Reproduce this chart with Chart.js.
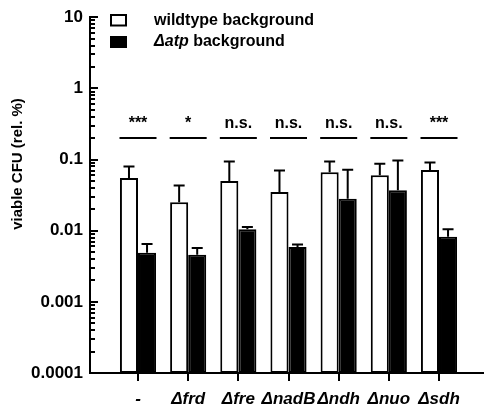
<!DOCTYPE html>
<html>
<head>
<meta charset="utf-8">
<script src="https://cdn.jsdelivr.net/npm/chart.js@4/dist/chart.umd.min.js"></script>
<style>
  html, body { margin: 0; padding: 0; background: #fff; }
  #wrap { width: 484px; height: 411px; }
</style>
</head>
<body>
<div id="wrap"><canvas id="c" width="484" height="411"></canvas></div>
<script>
// ---- data ----
const categories = ['-', '\u0394frd', '\u0394fre', '\u0394nadB', '\u0394ndh', '\u0394nuo', '\u0394sdh'];
const wildtypeMean = [0.055, 0.025, 0.050, 0.035, 0.066, 0.060, 0.071];
const wildtypeErr  = [0.025, 0.018, 0.044, 0.035, 0.028, 0.027, 0.020];
const atpMean      = [0.0049, 0.0046, 0.0105, 0.0059, 0.028, 0.037, 0.0082];
const atpErr       = [0.0016, 0.0011, 0.0008, 0.0005, 0.044, 0.060, 0.0023];
const significance = ['***', '*', 'n.s.', 'n.s.', 'n.s.', 'n.s.', '***'];
const significanceLevel = 0.2;
const yTickValues = [0.0001, 0.001, 0.01, 0.1, 1, 10];
const yTickLabels = ['0.0001', '0.001', '0.01', '0.1', '1', '10'];
const seriesNames = ['wildtype background', '\u0394atp background'];
const yTitle = 'viable CFU (rel. %)';

const FONT = 'Arial, "Liberation Sans", sans-serif';

const toPoints = arr => arr.map((v, i) => ({ x: i, y: v }));

// error bars (upper only)
const errorBarPlugin = {
  id: 'errorBars',
  afterDatasetsDraw(chart) {
    const ctx = chart.ctx;
    const y = chart.scales.y;
    const errs = [wildtypeErr, atpErr];
    const means = [wildtypeMean, atpMean];
    ctx.save();
    ctx.strokeStyle = '#000';
    ctx.lineWidth = 2;
    chart.data.datasets.forEach((ds, d) => {
      const meta = chart.getDatasetMeta(d);
      meta.data.forEach((bar, i) => {
        const top = y.getPixelForValue(means[d][i] + errs[d][i]);
        ctx.beginPath();
        ctx.moveTo(bar.x, bar.y);
        ctx.lineTo(bar.x, top);
        ctx.moveTo(bar.x - 5.5, top);
        ctx.lineTo(bar.x + 5.5, top);
        ctx.stroke();
      });
    });
    ctx.restore();
  }
};

// significance markers, inward y ticks, legend, y title
const decorPlugin = {
  id: 'decor',
  afterDraw(chart) {
    const ctx = chart.ctx;
    const x = chart.scales.x;
    const y = chart.scales.y;
    const area = chart.chartArea;
    ctx.save();
    ctx.strokeStyle = '#000';
    ctx.fillStyle = '#000';
    ctx.lineWidth = 2;
    // significance
    const ly = y.getPixelForValue(significanceLevel);
    ctx.font = 'bold 16px ' + FONT;
    ctx.textAlign = 'center';
    ctx.textBaseline = 'alphabetic';
    significance.forEach((s, i) => {
      const cx = x.getPixelForValue(i);
      ctx.beginPath();
      ctx.moveTo(cx - 18.5, ly);
      ctx.lineTo(cx + 18.5, ly);
      ctx.stroke();
      ctx.fillText(s, cx, ly - 10);
    });
    // inward ticks on y axis
    const left = area.left;
    yTickValues.forEach((v, k) => {
      const p = Math.round(y.getPixelForValue(v));
      ctx.beginPath();
      ctx.moveTo(left, p);
      ctx.lineTo(left + 8, p);
      ctx.stroke();
      if (k < yTickValues.length - 1) {
        for (let m = 2; m <= 9; m++) {
          const q = Math.round(y.getPixelForValue(v * m));
          ctx.beginPath();
          ctx.moveTo(left, q);
          ctx.lineTo(left + 5, q);
          ctx.stroke();
        }
      }
    });
    // legend
    ctx.lineWidth = 2;
    ctx.strokeRect(111, 15, 15, 10.5);
    ctx.fillRect(110, 36, 17, 12);
    ctx.textAlign = 'left';
    ctx.textBaseline = 'middle';
    ctx.font = 'bold 16px ' + FONT;
    ctx.fillText(seriesNames[0], 154, 21);
    const parts = seriesNames[1].split(' ');
    ctx.font = 'italic bold 16px ' + FONT;
    ctx.fillText(parts[0], 154, 42);
    const w = ctx.measureText(parts[0]).width;
    ctx.font = 'bold 16px ' + FONT;
    ctx.fillText(' ' + parts.slice(1).join(' '), 154 + w, 42);
    // y title
    ctx.translate(18, 164);
    ctx.rotate(-Math.PI / 2);
    ctx.textAlign = 'center';
    ctx.textBaseline = 'middle';
    ctx.font = 'bold 15px ' + FONT;
    ctx.fillText(yTitle, 0, 0);
    ctx.restore();
  }
};

new Chart(document.getElementById('c'), {
  type: 'bar',
  data: {
    datasets: [
      {
        label: seriesNames[0],
        data: toPoints(wildtypeMean),
        backgroundColor: '#ffffff',
        borderColor: '#000000',
        borderWidth: 2,
        borderSkipped: false
      },
      {
        label: seriesNames[1],
        data: toPoints(atpMean),
        backgroundColor: '#000000',
        borderColor: '#000000',
        borderWidth: 2,
        borderSkipped: false
      }
    ]
  },
  options: {
    responsive: false,
    animation: false,
    devicePixelRatio: 1,
    categoryPercentage: 0.72,
    barPercentage: 1.0,
    layout: { padding: { top: 15, right: 1, bottom: 0, left: 0 } },
    plugins: {
      legend: { display: false },
      tooltip: { enabled: false }
    },
    scales: {
      x: {
        type: 'linear',
        position: 'bottom',
        offset: false,
        min: -0.957,
        max: 6.877,
        afterBuildTicks: s => { s.ticks = categories.map((c, i) => ({ value: i })); },
        afterFit: s => { s.height = 38; },
        grid: { offset: false, drawOnChartArea: false, drawTicks: true, tickLength: 8, color: '#000', lineWidth: 2 },
        border: { display: true, color: '#000', width: 2 },
        ticks: {
          autoSkip: false,
          maxRotation: 0,
          padding: 8,
          color: '#000',
          font: { family: FONT, size: 17, weight: 'bold', style: 'italic' },
          callback: (v) => categories[v]
        }
      },
      y: {
        type: 'logarithmic',
        min: 0.0001,
        max: 10,
        afterBuildTicks: s => { s.ticks = yTickValues.map(v => ({ value: v, major: true })); },
        afterFit: s => { s.width = 90; },
        grid: { display: false, drawTicks: false },
        border: { display: true, color: '#000', width: 2 },
        ticks: {
          padding: 7,
          color: '#000',
          font: { family: FONT, size: 17, weight: 'bold' },
          callback: (v, i) => yTickLabels[i]
        }
      }
    }
  },
  plugins: [errorBarPlugin, decorPlugin]
});
</script>
</body>
</html>
